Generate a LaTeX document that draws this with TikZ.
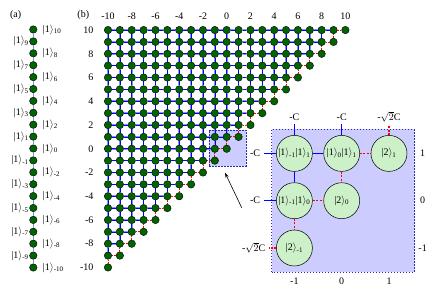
\documentclass[tikz,border=0pt]{standalone}
\usepackage{fontspec}
\setmainfont{Liberation Serif}
\usetikzlibrary{arrows.meta}
\newcommand{\kt}[2]{|#1$\rangle$\textsubscript{#2}}

\begin{document}
\begin{tikzpicture}[
  x=1pt, y=-1pt,
  font=\fontsize{10}{12}\selectfont,
  dot/.style={circle, draw=black, fill={rgb,255:red,0;green,100;blue,0}, line width=0.4pt, inner sep=0pt, minimum size=7.5pt},
  bigc/.style={circle, draw=black, fill={rgb,255:red,204;green,240;blue,200}, line width=0.5pt, inner sep=0pt, minimum size=36pt},
  chain/.style={draw={rgb,255:red,140;green,140;blue,210}, line width=1.3pt},
  hophalo/.style={draw=blue!45, line width=1.6pt},
  hop/.style={draw=blue, line width=0.6pt},
  dhop/.style={draw=red, line width=0.8pt, dash pattern=on 1.5pt off 1pt},
  ihop/.style={draw=blue, line width=1.1pt},
  idhop/.style={draw=red, line width=1.1pt, dash pattern=on 2pt off 1.5pt},
  bigbox/.style={fill=blue!20, draw={rgb,255:red,40;green,40;blue,170}, line width=0.8pt, dash pattern=on 1.5pt off 1.5pt},
  zbox/.style={fill=blue!20, draw={rgb,255:red,40;green,40;blue,170}, line width=0.8pt, dash pattern=on 1.5pt off 1.5pt}
]
  \useasboundingbox (0,0) rectangle (437,292);

  % Panel (a): cadena unidimensional
  \node (pa) at (15.7,15) {(a)};
  \foreach \n in {10,...,-10} {
    \node[dot] (a\n) at (33.3, {29.5+(10-\n)*11.9}) {};
  }
  \foreach \n in {10,...,-9} {
    \pgfmathtruncatemacro{\m}{\n-1}
    \draw[chain] (a\n) -- (a\m);
  }
  \foreach \n in {10,...,-10} {
    \ifodd\n
      \node[anchor=east, inner sep=0.5pt] (la\n) at (a\n.west) {\kt{1}{\n}};
    \else
      \node[anchor=west, inner sep=0.5pt] (la\n) at ([xshift=5pt]a\n.east) {\kt{1}{\n}};
    \fi
  }

  % Panel (b): red triangular de dos partículas
  \node (pb) at (83.3,15) {(b)};
  \begin{scope}[shift={(226.7pt,-148.75pt)}, x=11.87pt, y=11.87pt]
    % recuadro de ampliación
    \draw[zbox] (-1.47,-1.45) rectangle (1.63,1.58);

    % vértices (x <= y)
    \foreach \x in {-10,...,10} {
      \foreach \y in {\x,...,10} {
        \node[dot] (g\x y\y) at (\x,\y) {};
      }
    }

    % aristas horizontales
    \foreach \x in {-10,...,9} {
      \pgfmathtruncatemacro{\xa}{\x+1}
      \foreach \y in {\xa,...,10} {
        \ifnum\y=\xa
          \draw[dhop] (g\x y\y) -- (g\xa y\y);
        \else
          \draw[hophalo] (g\x y\y) -- (g\xa y\y);
          \draw[hop] (g\x y\y) -- (g\xa y\y);
        \fi
      }
    }

    % aristas verticales
    \foreach \x in {-10,...,9} {
      \foreach \y in {\x,...,9} {
        \pgfmathtruncatemacro{\ya}{\y+1}
        \ifnum\y=\x
          \draw[dhop] (g\x y\y) -- (g\x y\ya);
        \else
          \draw[hophalo] (g\x y\y) -- (g\x y\ya);
          \draw[hop] (g\x y\y) -- (g\x y\ya);
        \fi
      }
    }

    % etiquetas de los ejes
    \foreach \x in {-10,-8,...,10} {
      \node (tx\x) at (\x,11.2) {\x};
    }
    \foreach \y in {-10,-8,...,10} {
      \node[anchor=east] (ly\y) at (-10.93,\y) {\y};
    }
  \end{scope}

  % Flecha hacia la ampliación
  \coordinate (arrtail) at (241.7,207.7);
  \coordinate (arrtip) at (225,172.7);
  \draw[-{Stealth[length=5pt,width=3.2pt]}, line width=0.6pt] (arrtail) -- (arrtip);

  % Ampliación
  \begin{scope}[shift={(341.7pt,-200.7pt)}, x=47.3pt, y=47.3pt]
    \draw[bigbox] (-1.48,-1.51) rectangle (1.53,1.51);

    \node[bigc] (c-1 1) at (-1,1) {\kt{1}{-1}\kt{1}{1}};
    \node[bigc] (c0 1) at (0,1) {\kt{1}{0}\kt{1}{1}};
    \node[bigc] (c1 1) at (1,1) {\kt{2}{1}};
    \node[bigc] (c-1 0) at (-1,0) {\kt{1}{-1}\kt{1}{0}};
    \node[bigc] (c0 0) at (0,0) {\kt{2}{0}};
    \node[bigc] (c-1 -1) at (-1,-1) {\kt{2}{-1}};

    % acoplamientos internos
    \draw[ihop] (c-1 1) -- (c0 1);
    \draw[ihop] (c-1 1) -- (c-1 0);
    \draw[idhop] (c0 1) -- (c1 1);
    \draw[idhop] (c0 1) -- (c0 0);
    \draw[idhop] (c-1 0) -- (c0 0);
    \draw[idhop] (c-1 0) -- (c-1 -1);

    % acoplamientos hacia fuera
    \node (t-1) at (-1,1.77) {-C};
    \node (t0) at (0,1.77) {-C};
    \node (t1) at (1,1.77) {-$\sqrt{2}$C};
    \node (l1) at (-1.83,1) {-C};
    \node (l0) at (-1.83,0) {-C};
    \node (l-1) at (-1.86,-1) {-$\sqrt{2}$C};
    \draw[ihop] (c-1 1) -- (t-1);
    \draw[ihop] (c0 1) -- (t0);
    \draw[idhop] (c1 1) -- (t1);
    \draw[ihop] (c-1 1) -- (l1);
    \draw[ihop] (c-1 0) -- (l0);
    \draw[idhop] (c-1 -1) -- (l-1);

    % ejes de la ampliación
    \node (r1) at (1.71,1) {1};
    \node (r0) at (1.71,0) {0};
    \node (r-1) at (1.71,-1) {-1};
    \node (b-1) at (-1,-1.7) {-1};
    \node (b0) at (0,-1.7) {0};
    \node (b1) at (1,-1.7) {1};
  \end{scope}

\end{tikzpicture}
\end{document}
